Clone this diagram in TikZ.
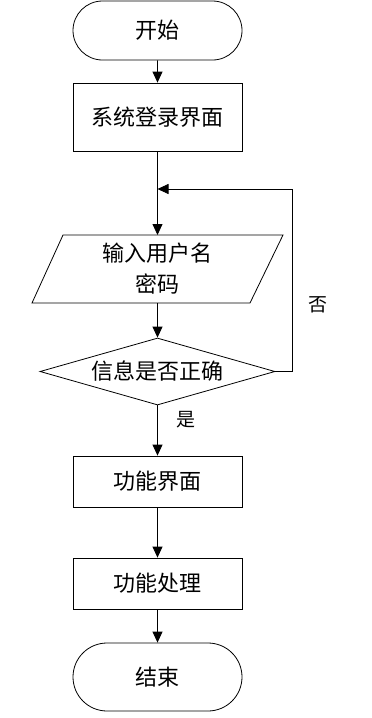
\documentclass[tikz,border=0pt]{standalone}
\usepackage{fontspec}
\setmainfont{Noto Sans CJK SC}
\usetikzlibrary{arrows.meta,shapes.misc,shapes.geometric}
\begin{document}
\begin{tikzpicture}[x=1pt,y=-1pt,
  every node/.style={font=\fontsize{22}{31}\selectfont},
  term/.style={draw, rounded rectangle, minimum width=169pt, minimum height=59pt, inner sep=0pt, line width=0.8pt},
  procbox/.style={draw, rectangle, minimum width=169pt, inner sep=0pt, line width=0.8pt},
  decide/.style={draw, diamond, minimum width=235pt, minimum height=67pt, inner sep=0pt, aspect=3.5, line width=0.8pt},
  lbl/.style={font=\fontsize{19}{22}\selectfont},
  flow/.style={line width=0.8pt, -{Triangle[length=11pt,width=10pt]}},
  plain/.style={line width=0.8pt}]
\useasboundingbox (0,0) rectangle (372,718);
\node[term] (start) at (157.5,30.5) {开始};
\node[procbox, minimum height=68pt] (login) at (157.5,117) {系统登录界面};
\node[align=center, inner sep=0pt] (input) at (157.5,269) {输入用户名\\密码};
\coordinate (inTop) at (157.5,235);
\coordinate (inBot) at (157.5,303);
\draw[plain] (63,235) -- (283,235) -- (250,303) -- (32,303) -- cycle;
\node[decide] (check) at (157.5,371.5) {};
\node at (check.center) {信息是否正确};
\node[procbox, minimum height=51pt] (func) at (157.5,481.5) {功能界面};
\node[procbox, minimum height=51pt] (proc) at (157.5,583.5) {功能处理};
\node[term, minimum height=68pt] (stop) at (157.5,677) {结束};
\coordinate (loopR) at (292,189);
\coordinate (loopL) at (157.5,189);
\draw[flow] (start) -- (login);
\draw[flow] (login) -- (inTop);
\draw[flow] (inBot) -- (check.north);
\draw[flow] (check.south) -- (func);
\draw[flow] (func) -- (proc);
\draw[flow] (proc) -- (stop);
\draw[flow] (check.east) -| (loopR) -- (loopL);
\node[lbl] (no) at (318,305) {否};
\node[lbl] (yes) at (186,420) {是};
\end{tikzpicture}
\end{document}
